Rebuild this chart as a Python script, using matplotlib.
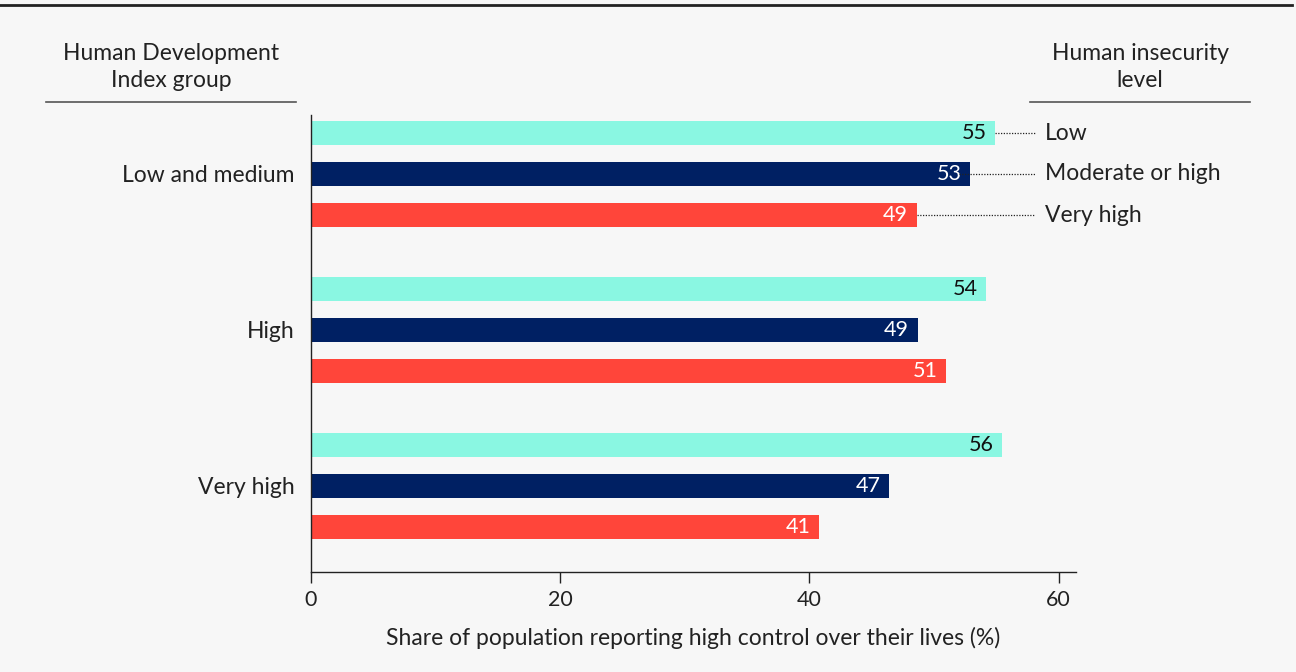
import matplotlib.pyplot as plt
import numpy as np

plt.rcParams['font.family'] = ['Lato', 'DejaVu Sans']

groups = ["Low and medium", "High", "Very high"]
levels = ["Low", "Moderate or high", "Very high"]
values = {
    "Low": [54.9, 54.2, 55.5],
    "Moderate or high": [52.9, 48.7, 46.4],
    "Very high": [48.6, 51.0, 40.8],
}
labels = {
    "Low": ["55", "54", "56"],
    "Moderate or high": ["53", "49", "47"],
    "Very high": ["49", "51", "41"],
}
colors = {"Low": "#8af7e2", "Moderate or high": "#002063", "Very high": "#ff453a"}
text_colors = {"Low": "#111111", "Moderate or high": "white", "Very high": "white"}
xticks = [0, 20, 40, 60]
xlabel = "Share of population reporting high control over their lives (%)"

bg = "#f7f7f7"
fs = 16.5
fig = plt.figure(figsize=(12.96, 6.72), dpi=100, facecolor=bg)
ax = fig.add_axes([311/1296, 1-572/672, (1076-311)/1296, (572-115)/672])
ax.set_facecolor(bg)

offset = 41/156
height = 24/156
for gi, g in enumerate(groups):
    for li, lv in enumerate(levels):
        y = gi + (li - 1) * offset
        v = values[lv][gi]
        ax.barh(y, v, height=height, color=colors[lv], edgecolor='none')
        ax.text(v - 0.7, y, labels[lv][gi], ha='right', va='center',
                fontsize=15.5, color=text_colors[lv])
        if gi == 0:
            start = v - 0.9 if lv == "Moderate or high" else v
            ax.plot([start, 58.1], [y, y], color='#222222', lw=0.9, ls=(0, (1, 1.2)),
                    clip_on=False, zorder=3)
            ax.text(58.9, y, lv, ha='left', va='center', fontsize=fs,
                    color='#222222', clip_on=False)

ax.set_xlim(0, 61.4)
ax.set_ylim(2 + 86/156, -59/156)
ax.set_yticks(range(len(groups)))
ax.set_yticklabels(groups, fontsize=fs, color='#222222')
ax.tick_params(axis='y', length=0, pad=12)
ax.set_xticks(xticks)
ax.set_xticklabels([str(t) for t in xticks], fontsize=15.5, color='#222222')
ax.tick_params(axis='x', length=8, width=1, pad=5, color='#222222')
ax.set_xlabel(xlabel, fontsize=fs, color='#222222', labelpad=12)
for s in ['top', 'right']:
    ax.spines[s].set_visible(False)
for s in ['left', 'bottom']:
    ax.spines[s].set_color('#222222')
    ax.spines[s].set_linewidth(1)

# headers
fig.text(171/1296, 1-67/672, "Human Development\nIndex group", ha='center', va='center',
         fontsize=fs, color='#222222', linespacing=1.35)
fig.text(1140/1296, 1-67/672, "Human insecurity\nlevel", ha='center', va='center',
         fontsize=fs, color='#222222', linespacing=1.35)
fig.add_artist(plt.Line2D([46/1296, 296/1296], [1-102/672]*2, color='#555555', lw=1.2))
fig.add_artist(plt.Line2D([1030/1296, 1250/1296], [1-102/672]*2, color='#555555', lw=1.2))
fig.add_artist(plt.Line2D([0, 1292/1296], [1-5/672]*2, color='#222222', lw=2))

fig.savefig("out.png", dpi=100, facecolor=bg)
